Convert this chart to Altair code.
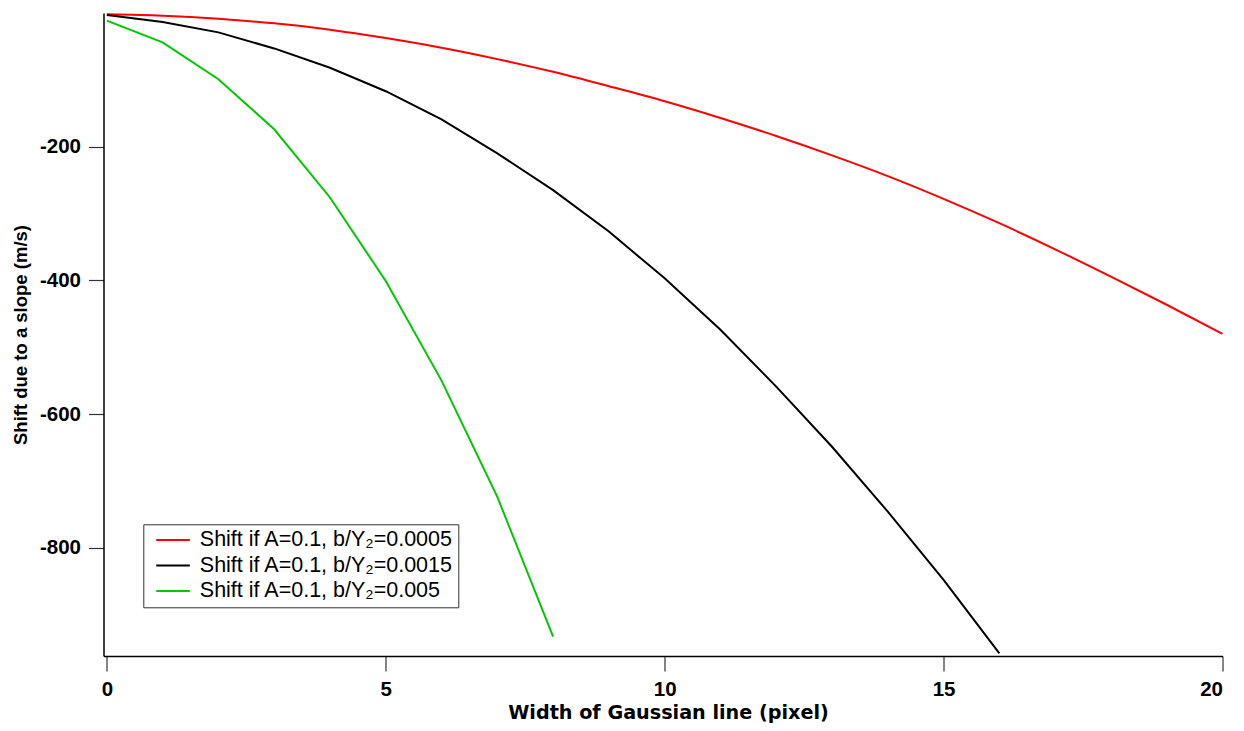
import altair as alt
import pandas as pd

# Width of Gaussian line (pixel)
width_px = list(range(21))

# Shift due to a slope (m/s)
shift_0005 = [-2, -4, -8.5, -15.5, -25, -37.5, -52, -69, -88, -109.5, -132,
              -157, -184, -213, -244, -278, -314.5, -353.5, -394.5, -436.5, -480]
shift_0015 = [-3, -13.5, -29, -53, -82, -117, -159, -210, -265, -327, -397,
              -474, -559, -649, -746, -848, -958]
shift_005 = [-11.5, -44, -99, -174, -276, -401, -550, -724, -933]

labels = [
    "Shift if A=0.1, b/Y\u2082=0.0005",
    "Shift if A=0.1, b/Y\u2082=0.0015",
    "Shift if A=0.1, b/Y\u2082=0.005",
]
colors = ["#ff0000", "#000000", "#00c800"]

x_ticks = [0, 5, 10, 15, 20]
y_ticks = [-800, -600, -400, -200]

rows = []
for lab, ys in zip(labels, [shift_0005, shift_0015, shift_005]):
    for xv, yv in zip(width_px, ys):
        rows.append({"w": xv, "shift": yv, "series": lab})
df = pd.DataFrame(rows)

x_enc = alt.X(
    "w:Q",
    scale=alt.Scale(domain=[-0.06, 20], nice=False, zero=False),
    axis=alt.Axis(
        values=x_ticks,
        labelExpr="toString(datum.value)",
        title="Width of Gaussian line (pixel)",
        titleFont="DejaVu Sans",
        titleFontSize=19.2,
        titleFontWeight="bold",
        titleColor="#000000",
        titleX=564.5,
        titleY=62.5,
        titleBaseline="alphabetic",
        labelFont="Liberation Sans",
        labelFontSize=20.5,
        labelFontWeight="bold",
        labelColor="#000000",
        labelPadding=8,
        tickSize=15,
        tickWidth=1.2,
        tickColor="#333333",
        domainColor="#000000",
        domainWidth=1.5,
        grid=False,
    ),
)
y_enc = alt.Y(
    "shift:Q",
    scale=alt.Scale(domain=[-962, 0], nice=False, zero=False),
    axis=alt.Axis(
        values=y_ticks,
        labelExpr="toString(datum.value)",
        title="Shift due to a slope (m/s)",
        titleFont="Liberation Sans",
        titleFontSize=18.5,
        titleFontWeight="bold",
        titleColor="#000000",
        titleX=-77,
        titleY=321.5,
        titleAlign="center",
        titleBaseline="alphabetic",
        labelFont="Liberation Sans",
        labelFontSize=20.5,
        labelFontWeight="bold",
        labelColor="#000000",
        labelPadding=8,
        tickSize=15,
        tickWidth=1.2,
        tickColor="#333333",
        domainColor="#000000",
        domainWidth=1.5,
        grid=False,
    ),
)
color_enc = alt.Color(
    "series:N",
    scale=alt.Scale(domain=labels, range=colors),
    legend=alt.Legend(
        title=None,
        orient="none",
        legendX=39.8,
        legendY=511.3,
        symbolType="M-2.4,0L2.4,0",
        symbolSize=196,
        symbolStrokeWidth=2,
        symbolOffset=14,
        labelOffset=16,
        labelFont="Liberation Sans",
        labelFontSize=21.5,
        labelColor="#000000",
        labelLimit=500,
        padding=5,
        rowPadding=2.5,
        strokeColor="#333333",
        fillColor="#ffffff",
    ),
)

base = alt.Chart(df).encode(x=x_enc, y=y_enc, color=color_enc)

smooth = base.transform_filter(alt.datum.series == labels[0]).mark_line(
    strokeWidth=2, interpolate="monotone"
)
straight = base.transform_filter(alt.datum.series != labels[0]).mark_line(
    strokeWidth=2
)

chart = (
    alt.layer(smooth, straight)
    .properties(
        width=1119,
        height=643,
        autosize=alt.AutoSizeParams(type="none"),
        padding={"left": 95.5, "top": 5, "right": 13.5, "bottom": 67},
    )
    .configure_view(stroke=None)
)

chart.save("out.html", embed_options={"renderer": "svg", "actions": False})
